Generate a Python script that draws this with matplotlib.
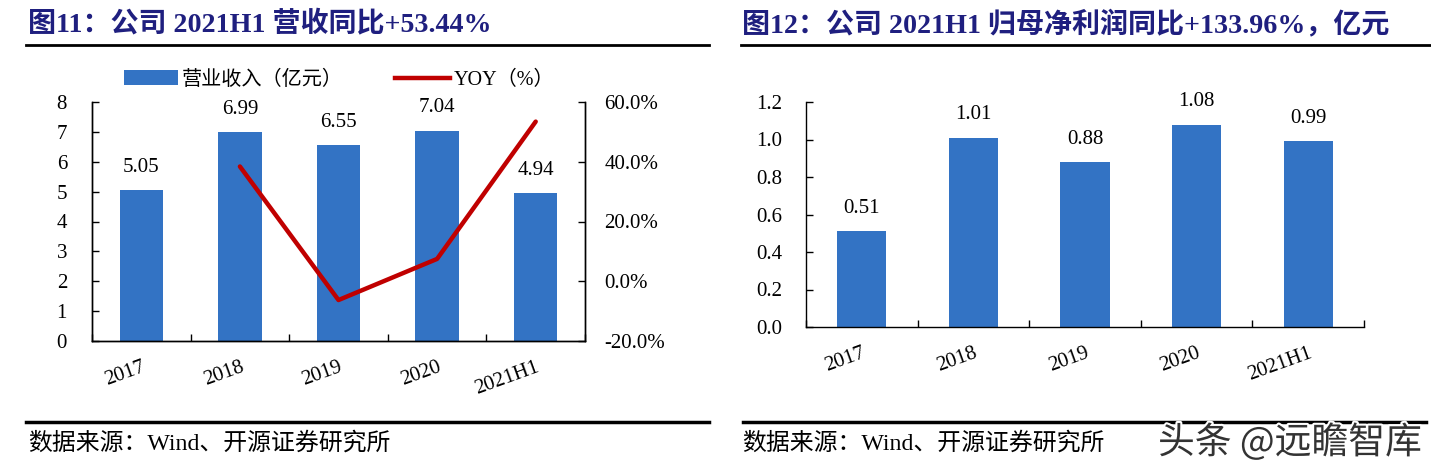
import matplotlib
matplotlib.use('Agg')
import numpy as np
import matplotlib.pyplot as plt
from matplotlib.lines import Line2D
from matplotlib.patches import Patch
import matplotlib.patheffects as pe
from matplotlib.ticker import FuncFormatter

categories = ['2017', '2018', '2019', '2020', '2021H1']
revenue = [5.05, 6.99, 6.55, 7.04, 4.94]
yoy_years = ['2018', '2019', '2020', '2021H1']
yoy = [38.42, -6.29, 7.48, 53.44]
net_profit = [0.51, 1.01, 0.88, 1.08, 0.99]

left_yticks = [0, 1, 2, 3, 4, 5, 6, 7, 8]
right_yticks = [-20, 0, 20, 40, 60]
profit_yticks = [0.0, 0.2, 0.4, 0.6, 0.8, 1.0, 1.2]

title_left = '图11：公司 2021H1 营收同比+53.44%'
title_right = '图12：公司 2021H1 归母净利润同比+133.96%，亿元'
source = '数据来源：Wind、开源证券研究所'
watermark = '头条 @远瞻智库'
legend_labels = ['营业收入（亿元）', 'YOY（%）']

SERIF = ['Liberation Serif', 'Noto Sans CJK SC']
plt.rcParams['font.family'] = SERIF
BLUE = '#3373c4'
RED = '#c00000'
NAVY = '#1f1f7f'

W, H = 1431, 476
fig = plt.figure(figsize=(W / 100, H / 100), dpi=100)


def fx(px):
    return px / W


def fy(py):
    return 1 - py / H


def style_axes(ax, ypad):
    ax.set_xlim(-0.5, len(categories) - 0.5)
    ax.set_xticks(range(len(categories)))
    ax.set_xticklabels(categories, rotation=20, ha='right', va='top',
                       rotation_mode='anchor', fontsize=15)
    ax.set_xticks(np.arange(-0.5, len(categories), 1), minor=True)
    ax.tick_params(axis='x', which='major', length=0, pad=12)
    ax.tick_params(axis='x', which='minor', direction='in', length=5, width=1)
    ax.tick_params(axis='y', direction='in', length=5, width=1, pad=ypad, labelsize=15)
    ax.spines['top'].set_visible(False)
    for s in ax.spines.values():
        s.set_linewidth(1)
        s.set_color('black')


# ---------- left chart ----------
ax1 = fig.add_axes([fx(92), fy(341), fx(585) - fx(92), fy(102) - fy(341)])
x = np.arange(len(categories))
ax1.bar(x, revenue, width=0.44, color=BLUE, zorder=2)
ax1.set_ylim(0, 8)
ax1.set_yticks(left_yticks)
style_axes(ax1, 18)
for i, v in enumerate(revenue):
    ax1.annotate(f'{v:.2f}', (i, v), xytext=(0, 16.5), textcoords='offset points',
                 ha='center', va='center', fontsize=15)

ax2 = ax1.twinx()
ax2.set_ylim(-0.2, 0.6)
ax2.set_yticks([v / 100 for v in right_yticks])
ax2.yaxis.set_major_formatter(FuncFormatter(lambda v, p: f'{v * 100:.1f}%'))
ax2.tick_params(axis='y', direction='in', length=5, width=1, pad=14, labelsize=15)
ax2.spines['top'].set_visible(False)
for s in ax2.spines.values():
    s.set_linewidth(1)
    s.set_color('black')
xi = [categories.index(c) for c in yoy_years]
ax2.plot(xi, [v / 100 for v in yoy], color=RED, lw=3.2, solid_capstyle='round', zorder=3)

handles = [Patch(facecolor=BLUE, edgecolor='none'), Line2D([], [], color=RED, lw=3.2)]
ax1.legend(handles, legend_labels, ncol=2, loc='center',
           bbox_to_anchor=(fx(339), fy(80)), bbox_transform=fig.transFigure,
           frameon=False, fontsize=14.5, handlelength=2.7, handleheight=0.75,
           handletextpad=0.2, columnspacing=2.6)

# ---------- right chart ----------
ax3 = fig.add_axes([fx(806), fy(327), fx(1364) - fx(806), fy(102) - fy(327)])
ax3.bar(x, net_profit, width=0.44, color=BLUE, zorder=2)
ax3.set_ylim(0, 1.2)
ax3.set_yticks(profit_yticks)
ax3.yaxis.set_major_formatter(FuncFormatter(lambda v, p: f'{v:.1f}'))
style_axes(ax3, 17)
ax3.spines['right'].set_visible(False)
for i, v in enumerate(net_profit):
    ax3.annotate(f'{v:.2f}', (i, v), xytext=(0, 16.5), textcoords='offset points',
                 ha='center', va='center', fontsize=15)

# ---------- titles, rules, sources ----------
fig.text(fx(28), fy(25), title_left, fontsize=20.2, weight='bold', color=NAVY,
         ha='left', va='center')
fig.text(fx(742), fy(25), title_right, fontsize=20.2, weight='bold', color=NAVY,
         ha='left', va='center')
fig.add_artist(Line2D([fx(26), fx(709)], [fy(45), fy(45)], color='black', lw=2))
fig.add_artist(Line2D([fx(741), fx(1431)], [fy(45), fy(45)], color='black', lw=2))
fig.add_artist(Line2D([fx(26), fx(709)], [fy(422), fy(422)], color='black', lw=2.5))
fig.add_artist(Line2D([fx(743), fx(1426)], [fy(422), fy(422)], color='black', lw=2.5))
fig.text(fx(28), fy(443), source, fontsize=17.2, ha='left', va='center')
fig.text(fx(742), fy(443), source, fontsize=17.2, ha='left', va='center')
fig.text(fx(1158), fy(443), watermark, fontsize=26.5, family='Noto Sans CJK SC',
         color='#333333', ha='left', va='center',
         path_effects=[pe.withStroke(linewidth=3, foreground='white')])

fig.savefig('out.png', dpi=100)
